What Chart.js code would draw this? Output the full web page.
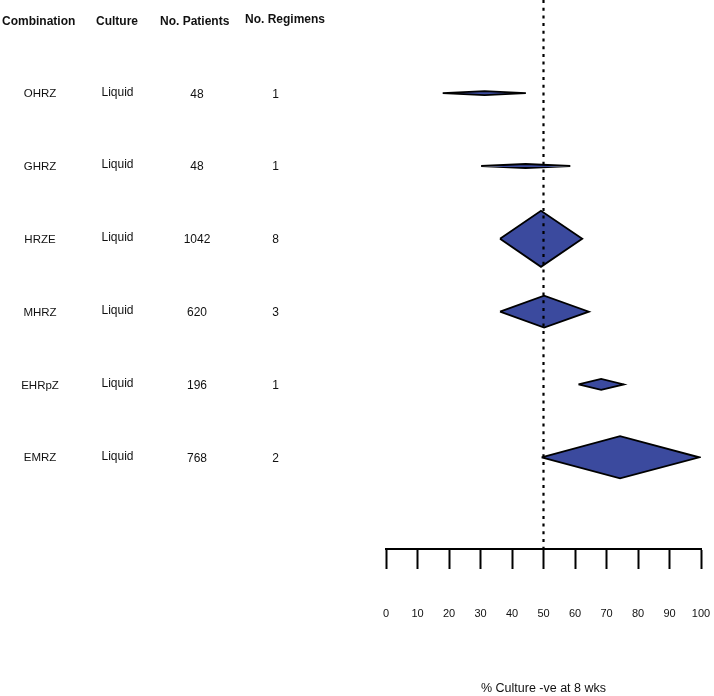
<!DOCTYPE html>
<html>
<head>
<meta charset="utf-8">
<script src="https://cdn.jsdelivr.net/npm/chart.js@4"></script>
<style>
  html, body { margin: 0; padding: 0; background: #fff; }
  #wrap { width: 714px; height: 696px; position: relative; }
</style>
</head>
<body>
<div id="wrap"><canvas id="forest"></canvas></div>
<script>
// --- datos ---
const combinations = ['OHRZ', 'GHRZ', 'HRZE', 'MHRZ', 'EHRpZ', 'EMRZ'];
const cultures     = ['Liquid', 'Liquid', 'Liquid', 'Liquid', 'Liquid', 'Liquid'];
const patients     = [48, 48, 1042, 620, 196, 768];
const regimens     = [1, 1, 8, 3, 1, 2];
const estimates    = [31.3, 44.3, 49.2, 50.2, 68.3, 74.3];
const lowerCI      = [18.0, 30.2, 36.2, 36.2, 61.1, 49.4];
const upperCI      = [44.4, 58.5, 62.3, 64.4, 75.5, 99.4];
const relWeight    = [2, 2, 28, 16, 5.5, 21];
const xTicks       = [0, 10, 20, 30, 40, 50, 60, 70, 80, 90, 100];
const refLine      = 50;
const headers      = ['Combination', 'Culture', 'No. Patients', 'No. Regimens'];

const Y_MIN = -0.28, Y_MAX = 7.26;
const ROW_PX = 72.8;
const FONT = '"Liberation Sans", Arial, sans-serif';

// un rombo por fila, cerrado
const diamonds = combinations.map((c, i) => {
  const r = i + 1;
  const h = relWeight[i] / ROW_PX;
  return {
    label: c,
    data: [
      { x: lowerCI[i], y: r },
      { x: estimates[i], y: r - h },
      { x: upperCI[i], y: r },
      { x: estimates[i], y: r + h },
      { x: lowerCI[i], y: r }
    ],
    showLine: true,
    fill: 'shape',
    backgroundColor: '#3b4a9e',
    borderColor: '#000',
    borderWidth: 1.8,
    pointRadius: 0,
    tension: 0
  };
});

// línea de referencia punteada
const refDataset = {
  label: 'ref',
  data: [{ x: refLine, y: Y_MIN }, { x: refLine, y: Y_MAX }],
  showLine: true,
  borderColor: '#000',
  borderWidth: 2.2,
  borderDash: [3, 4.7],
  pointRadius: 0,
  fill: false
};

// tabla de la izquierda
const tablePlugin = {
  id: 'tabla',
  afterDraw(chart) {
    const ctx = chart.ctx;
    const y = chart.scales.y;
    ctx.save();
    ctx.fillStyle = '#111';
    ctx.textBaseline = 'middle';

    ctx.font = 'bold 12px ' + FONT;
    ctx.textAlign = 'left';
    ctx.fillText(headers[0], 2, 22);
    ctx.fillText(headers[1], 96, 22);
    ctx.fillText(headers[2], 160, 22);
    ctx.fillText(headers[3], 245, 20);

    ctx.textAlign = 'center';
    combinations.forEach((c, i) => {
      const py = y.getPixelForValue(i + 1);
      ctx.font = '11.5px ' + FONT;
      ctx.fillText(c, 40, py + 1);
      ctx.font = '12px ' + FONT;
      ctx.fillText(cultures[i], 117.5, py - 1);
      ctx.fillText(String(patients[i]), 197, py + 1);
      ctx.fillText(String(regimens[i]), 275.5, py + 1);
    });
    ctx.restore();
  }
};

new Chart(document.getElementById('forest').getContext('2d'), {
  type: 'scatter',
  data: { datasets: [refDataset, ...diamonds] },
  options: {
    responsive: true,
    maintainAspectRatio: false,
    animation: false,
    layout: { padding: { left: 386, right: 13, top: 0, bottom: 0 } },
    plugins: {
      legend: { display: false },
      tooltip: { enabled: false }
    },
    scales: {
      x: {
        type: 'linear',
        min: 0,
        max: 100,
        afterBuildTicks: s => { s.ticks = xTicks.map(v => ({ value: v })); },
        afterFit: s => {
          // sin relleno lateral extra, altura fija del eje
          s.paddingLeft = 0;
          s.paddingRight = 0;
          s.height = 147;
        },
        border: { display: true, color: '#000', width: 2 },
        grid: {
          drawOnChartArea: false,
          drawTicks: true,
          tickLength: 20,
          tickWidth: 2,
          tickColor: '#000'
        },
        ticks: {
          color: '#111',
          padding: 38,
          maxRotation: 0,
          font: { family: FONT, size: 11 }
        },
        title: {
          display: true,
          text: '% Culture -ve at 8 wks',
          color: '#111',
          font: { family: FONT, size: 12.5 },
          padding: { top: 60, bottom: 0 }
        }
      },
      y: {
        type: 'linear',
        display: false,
        reverse: true,
        min: Y_MIN,
        max: Y_MAX
      }
    }
  },
  plugins: [tablePlugin]
});
</script>
</body>
</html>
